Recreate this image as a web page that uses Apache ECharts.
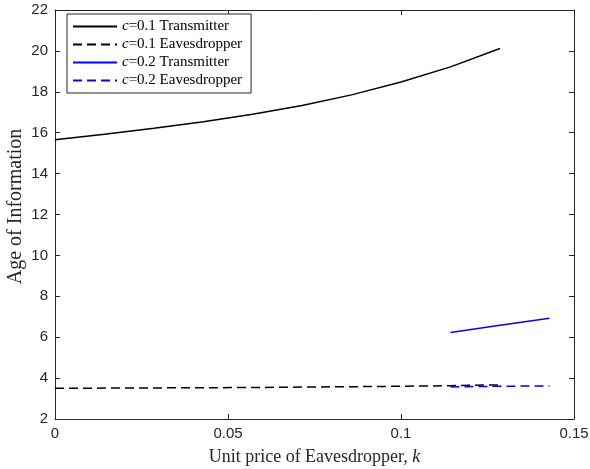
<!DOCTYPE html>
<html>
<head>
<meta charset="utf-8">
<script src="https://cdn.jsdelivr.net/npm/echarts@6/dist/echarts.min.js"></script>
<style>
  html, body { margin: 0; padding: 0; background: #fff; }
  #chart { width: 590px; height: 469px; }
</style>
</head>
<body>
<div id="chart"></div>
<script>
// unit price k (x values)
var kC1 = [0, 0.0143, 0.0286, 0.0429, 0.0571, 0.0714, 0.0857, 0.1, 0.1143, 0.1286];
var kC2 = [0.1143, 0.1286, 0.1429];

var c1Transmitter = [15.65, 15.93, 16.22, 16.53, 16.9, 17.33, 17.85, 18.48, 19.22, 20.12];
var c1Eavesdropper = [3.5, 3.51, 3.52, 3.53, 3.54, 3.56, 3.58, 3.6, 3.63, 3.67];
var c2Transmitter = [6.23, 6.58, 6.93];
var c2Eavesdropper = [3.57, 3.6, 3.62];

var seriesNames = ['c1T', 'c1E', 'c2T', 'c2E'];
var legendLabels = {
  c1T: '{i|c}=0.1 Transmitter',
  c1E: '{i|c}=0.1 Eavesdropper',
  c2T: '{i|c}=0.2 Transmitter',
  c2E: '{i|c}=0.2 Eavesdropper'
};

function pairs(xs, ys) {
  return xs.map(function (x, i) { return [x, ys[i]]; });
}

var axisColor = '#262626';
var chart = echarts.init(document.getElementById('chart'));

function mkSeries(name, data, color, dashed) {
  return {
    name: name,
    type: 'line',
    data: data,
    symbol: 'none',
    xAxisIndex: 0,
    yAxisIndex: 0,
    lineStyle: { color: color, width: 1.5, type: dashed ? [9, 5] : 'solid' },
    itemStyle: { color: color },
    animation: false
  };
}

var option = {
  backgroundColor: '#fff',
  grid: { left: 55, right: 16, top: 10, bottom: 50, outerBoundsMode: 'none', containLabel: false },
  legend: {
    data: seriesNames,
    orient: 'vertical',
    left: 67,
    top: 14,
    padding: [5, 9, 5, 5],
    itemWidth: 44,
    itemHeight: 14,
    itemGap: 3,
    itemStyle: { opacity: 0 },
    backgroundColor: '#fff',
    borderColor: '#262626',
    borderWidth: 1,
    borderRadius: 0,
    formatter: function (n) { return legendLabels[n]; },
    textStyle: {
      fontFamily: 'Liberation Serif',
      fontSize: 15,
      lineHeight: 15,
      color: '#000',
      rich: {
        i: { fontFamily: 'Liberation Serif', fontStyle: 'italic', fontSize: 15, lineHeight: 15, color: '#000' }
      }
    }
  },
  xAxis: [
    {
      type: 'value',
      min: 0,
      max: 0.15,
      interval: 0.05,
      name: 'Unit price of Eavesdropper, {i|k}',
      nameLocation: 'middle',
      nameGap: 29,
      nameTextStyle: {
        fontFamily: 'Liberation Serif',
        fontSize: 18,
        color: axisColor,
        rich: { i: { fontFamily: 'Liberation Serif', fontStyle: 'italic', fontSize: 18, color: axisColor } }
      },
      axisLine: { show: true, onZero: false, lineStyle: { color: axisColor, width: 1 } },
      axisTick: { show: true, inside: true, length: 5, lineStyle: { color: axisColor } },
      axisLabel: { color: axisColor, fontFamily: 'Liberation Sans', fontSize: 15, margin: 7 },
      splitLine: { show: false }
    },
    {
      type: 'value',
      position: 'top',
      min: 0,
      max: 0.15,
      interval: 0.05,
      axisLine: { show: true, onZero: false, lineStyle: { color: axisColor, width: 1 } },
      axisTick: { show: true, inside: true, length: 5, lineStyle: { color: axisColor } },
      axisLabel: { show: false },
      splitLine: { show: false }
    }
  ],
  yAxis: [
    {
      type: 'value',
      min: 2,
      max: 22,
      interval: 2,
      name: 'Age of Information',
      nameLocation: 'middle',
      nameGap: 29,
      nameMoveOverlap: false,
      nameTextStyle: { fontFamily: 'Liberation Serif', fontSize: 20, color: axisColor, padding: [0, 0, 0, 16] },
      axisLine: { show: true, onZero: false, lineStyle: { color: axisColor, width: 1 } },
      axisTick: { show: true, inside: true, length: 5, lineStyle: { color: axisColor } },
      axisLabel: { color: axisColor, fontFamily: 'Liberation Sans', fontSize: 15, margin: 7 },
      splitLine: { show: false }
    },
    {
      type: 'value',
      position: 'right',
      min: 2,
      max: 22,
      interval: 2,
      axisLine: { show: true, onZero: false, lineStyle: { color: axisColor, width: 1 } },
      axisTick: { show: true, inside: true, length: 5, lineStyle: { color: axisColor } },
      axisLabel: { show: false },
      splitLine: { show: false }
    }
  ],
  series: [
    mkSeries('c1T', pairs(kC1, c1Transmitter), '#000000', false),
    mkSeries('c1E', pairs(kC1, c1Eavesdropper), '#000000', true),
    mkSeries('c2T', pairs(kC2, c2Transmitter), '#0000ff', false),
    mkSeries('c2E', pairs(kC2, c2Eavesdropper), '#0000ff', true)
  ]
};

chart.setOption(option);
</script>
</body>
</html>
